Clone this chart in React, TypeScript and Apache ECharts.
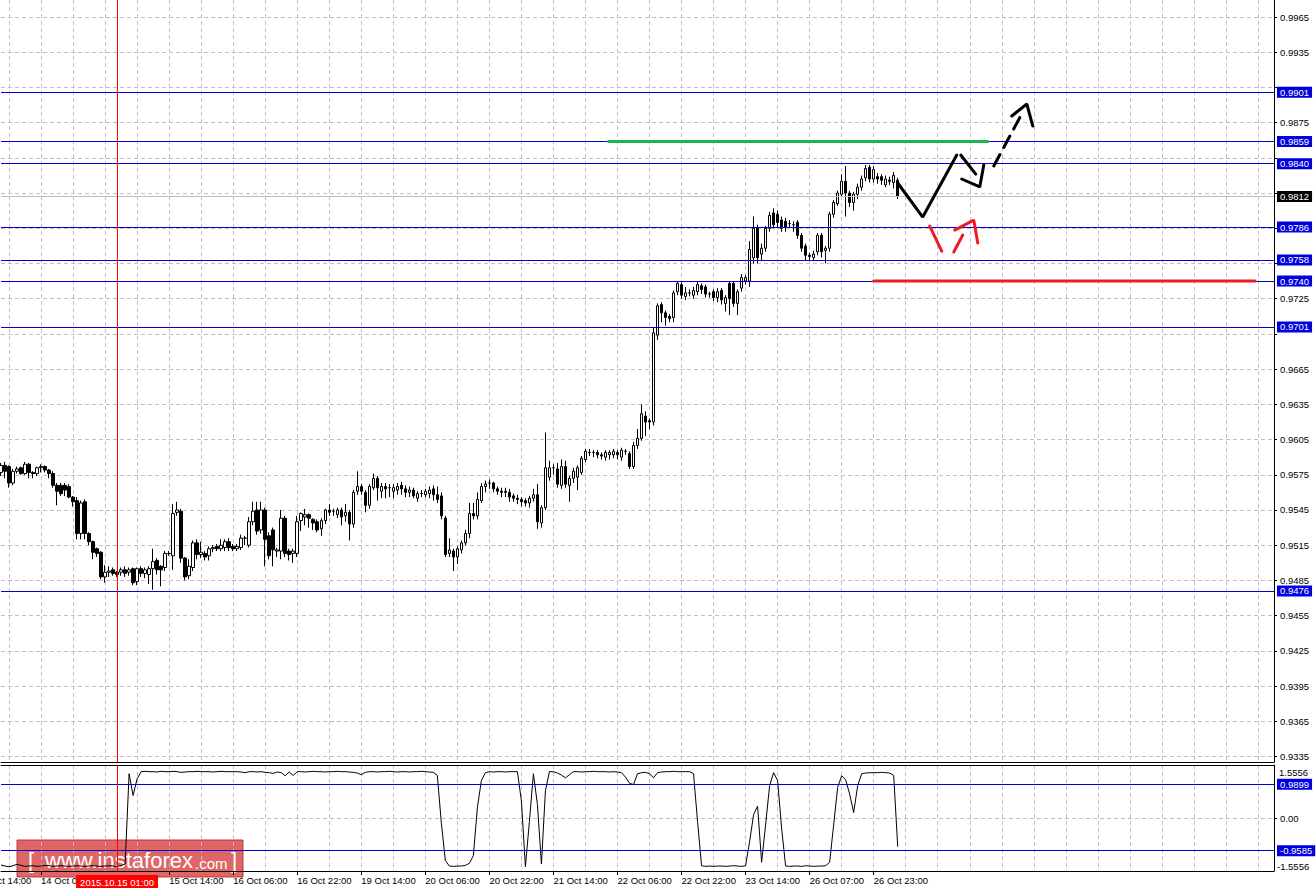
import React, { useEffect, useRef } from 'react';
import * as echarts from 'echarts';

const FONT = '"Liberation Sans", Arial, sans-serif';
const BLUE = '#0000dc';
const GRID_GRAY = '#c0c0c0';

const SLOT_COUNT = 319;
const FIRST_LABEL_BAR = 10;
const LABEL_STEP = 16;
const GRID_STEP = 8;
const GRID_PHASE = 2;

const timeLabels = [
  '14 Oct 06:00', '', '15 Oct 14:00', '16 Oct 06:00', '16 Oct 22:00', '19 Oct 14:00',
  '20 Oct 06:00', '20 Oct 22:00', '21 Oct 14:00', '22 Oct 06:00', '22 Oct 22:00',
  '23 Oct 14:00', '26 Oct 07:00', '26 Oct 23:00',
];
const offscreenLabel = '13 Oct 14:00';
const crosshairBar = '29';
const crosshairLabel = '2015.10.15 01:00';

const priceMin = 0.93303;
const priceMax = 0.99795;
const priceTicks = [
  0.9335, 0.9365, 0.9395, 0.9425, 0.9455, 0.9485, 0.9515, 0.9545, 0.9575, 0.9605, 0.9635,
  0.9665, 0.9695, 0.9725, 0.9755, 0.9785, 0.9815, 0.9845, 0.9875, 0.9905, 0.9935, 0.9965,
];
const priceLabels = [
  0.9335, 0.9365, 0.9395, 0.9425, 0.9455, 0.9485, 0.9515, 0.9545, 0.9575, 0.9605, 0.9635,
  0.9665, 0.9725, 0.9875, 0.9935, 0.9965,
];
const levelLines = [0.9901, 0.9859, 0.984, 0.9786, 0.9758, 0.974, 0.9701, 0.9476];
const currentPrice = 0.9812;
const indLevels = [0.9899, -0.9585];
const indRange = 1.5556;

// [open, close, low, high] in pips (x 0.0001)
const ohlc = [
  [9577,9583,9574,9585],[9583,9578,9572,9586],[9582,9568,9564,9583],[9568,9578,9566,9580],
  [9578,9580,9576,9582],[9581,9576,9575,9582],[9576,9584,9575,9586],[9584,9577,9572,9585],
  [9577,9576,9572,9578],[9576,9581,9574,9582],[9581,9582,9577,9584],[9582,9579,9577,9583],
  [9579,9576,9572,9580],[9576,9566,9564,9578],[9566,9561,9549,9568],[9566,9559,9557,9568],
  [9566,9562,9557,9568],[9565,9556,9555,9567],[9556,9552,9548,9557],[9553,9525,9520,9556],
  [9525,9551,9520,9553],[9552,9525,9520,9554],[9525,9518,9515,9526],[9518,9509,9503,9519],
  [9512,9508,9505,9513],[9509,9488,9486,9510],[9488,9492,9483,9498],[9492,9493,9488,9497],
  [9494,9491,9489,9496],[9492,9490,9488,9493],[9492,9494,9489,9496],[9494,9491,9488,9497],
  [9492,9494,9489,9496],[9495,9483,9481,9496],[9484,9495,9481,9496],[9495,9491,9488,9497],
  [9491,9494,9487,9496],[9490,9495,9482,9497],[9495,9501,9477,9512],[9502,9494,9490,9504],
  [9497,9494,9480,9498],[9496,9508,9493,9510],[9508,9508,9506,9510],[9506,9542,9494,9550],
  [9543,9545,9540,9552],[9544,9504,9500,9546],[9504,9488,9485,9505],[9489,9497,9486,9503],
  [9496,9517,9493,9519],[9517,9507,9503,9520],[9507,9509,9504,9518],[9508,9505,9502,9510],
  [9506,9512,9502,9514],[9512,9513,9509,9515],[9514,9512,9510,9516],[9512,9515,9510,9520],
  [9513,9518,9510,9520],[9518,9513,9510,9521],[9514,9512,9510,9516],[9512,9514,9510,9516],
  [9513,9521,9511,9524],[9521,9521,9515,9523],[9515,9535,9513,9539],[9535,9544,9532,9552],
  [9545,9527,9524,9552],[9528,9545,9525,9552],[9545,9520,9497,9547],[9523,9506,9503,9526],
  [9528,9511,9497,9530],[9510,9511,9505,9513],[9510,9538,9503,9545],[9538,9508,9505,9540],
  [9510,9507,9502,9512],[9508,9510,9500,9512],[9508,9535,9505,9540],[9536,9542,9527,9543],
  [9539,9541,9532,9546],[9541,9538,9530,9542],[9537,9534,9528,9538],[9535,9528,9526,9537],
  [9529,9536,9523,9538],[9536,9545,9533,9546],[9545,9543,9540,9550],[9544,9544,9540,9546],
  [9541,9545,9538,9547],[9545,9539,9532,9547],[9540,9543,9535,9550],[9543,9533,9519,9545],
  [9533,9560,9530,9562],[9561,9565,9558,9578],[9565,9561,9558,9567],[9560,9549,9543,9562],
  [9549,9565,9546,9567],[9564,9572,9562,9576],[9572,9564,9553,9574],[9561,9565,9555,9568],
  [9565,9563,9555,9568],[9564,9564,9556,9567],[9561,9564,9555,9567],[9562,9565,9558,9568],
  [9566,9563,9558,9569],[9563,9560,9556,9566],[9560,9562,9556,9565],[9562,9557,9555,9564],
  [9555,9559,9552,9561],[9559,9559,9556,9562],[9558,9561,9556,9563],[9559,9562,9555,9565],
  [9563,9558,9553,9566],[9558,9554,9551,9565],[9557,9540,9537,9560],[9538,9507,9505,9540],
  [9508,9511,9505,9521],[9510,9505,9493,9512],[9505,9512,9499,9514],[9511,9517,9508,9519],
  [9517,9525,9515,9528],[9525,9542,9521,9551],[9542,9540,9537,9551],[9540,9554,9537,9560],
  [9553,9565,9551,9568],[9565,9567,9560,9570],[9568,9568,9563,9571],[9568,9563,9560,9569],
  [9563,9561,9558,9565],[9561,9560,9556,9564],[9561,9560,9556,9564],[9560,9556,9552,9563],
  [9557,9555,9552,9559],[9555,9554,9550,9558],[9554,9552,9548,9556],[9553,9551,9548,9555],
  [9551,9555,9547,9557],[9555,9558,9552,9563],[9558,9535,9529,9567],[9534,9547,9530,9549],
  [9547,9581,9545,9611],[9573,9581,9570,9587],[9581,9581,9575,9584],[9580,9567,9564,9585],
  [9566,9582,9563,9588],[9582,9567,9564,9587],[9566,9572,9552,9574],[9572,9578,9568,9581],
  [9573,9581,9562,9583],[9577,9589,9575,9591],[9588,9595,9586,9597],[9594,9594,9591,9597],
  [9594,9594,9590,9596],[9594,9592,9589,9596],[9592,9591,9588,9594],[9590,9594,9587,9596],
  [9592,9594,9588,9596],[9592,9595,9589,9597],[9594,9592,9588,9596],[9590,9596,9587,9598],
  [9595,9595,9592,9597],[9593,9582,9580,9595],[9582,9600,9580,9603],[9600,9606,9597,9614],
  [9606,9627,9604,9635],[9625,9620,9608,9629],[9621,9620,9614,9623],[9620,9696,9617,9700],
  [9694,9719,9690,9721],[9720,9713,9705,9722],[9713,9709,9702,9715],[9710,9708,9705,9712],
  [9709,9730,9705,9732],[9731,9738,9728,9740],[9737,9728,9725,9739],[9727,9730,9724,9735],
  [9730,9730,9727,9733],[9728,9732,9725,9735],[9731,9737,9728,9740],[9736,9733,9729,9738],
  [9735,9729,9726,9737],[9729,9729,9726,9731],[9731,9726,9723,9733],[9726,9731,9722,9734],
  [9732,9724,9720,9734],[9721,9726,9714,9728],[9738,9725,9711,9740],[9738,9721,9718,9740],
  [9721,9731,9711,9733],[9734,9743,9731,9746],[9740,9743,9737,9745],[9740,9767,9735,9774],
  [9760,9785,9755,9795],[9785,9760,9755,9788],[9763,9768,9757,9772],[9768,9785,9765,9787],
  [9785,9796,9782,9799],[9798,9788,9785,9802],[9797,9790,9785,9800],[9792,9785,9782,9795],
  [9791,9786,9782,9794],[9789,9789,9785,9792],[9788,9788,9782,9791],[9790,9779,9776,9792],
  [9779,9768,9765,9781],[9770,9762,9758,9772],[9762,9761,9758,9764],[9760,9763,9757,9766],
  [9765,9779,9762,9781],[9779,9765,9760,9781],[9766,9768,9755,9770],[9768,9797,9765,9799],
  [9797,9807,9794,9809],[9806,9815,9804,9817],[9814,9825,9812,9831],[9825,9815,9795,9838],
  [9815,9807,9803,9817],[9807,9814,9800,9816],[9814,9820,9810,9823],[9820,9827,9817,9830],
  [9828,9836,9825,9839],[9837,9827,9824,9839],[9827,9835,9824,9838],[9829,9827,9823,9832],
  [9829,9826,9822,9831],[9822,9827,9820,9830],[9826,9825,9822,9829],[9824,9830,9819,9833],
  [9826,9812,9810,9828],
];

const indicator = [
  -1.38,-1.41,-1.43,-1.40,-1.36,-1.39,-1.42,-1.41,-1.40,-1.42,
  -1.41,-1.39,-1.40,-1.42,-1.41,-1.40,-1.41,-1.42,-1.41,-1.40,
  -1.41,-1.42,-1.41,-1.40,-1.41,-1.42,-1.41,-1.40,-1.41,-1.42,
  -1.40,-1.35,1.30,0.66,1.15,1.36,1.37,1.36,1.36,1.35,
  1.37,1.36,1.36,1.37,1.36,1.34,1.35,1.36,1.36,1.37,
  1.36,1.36,1.36,1.35,1.36,1.37,1.36,1.36,1.36,1.36,
  1.35,1.33,1.36,1.36,1.35,1.36,1.34,1.33,1.31,1.35,
  1.33,1.24,1.35,1.25,1.36,1.36,1.35,1.36,1.37,1.36,
  1.36,1.35,1.36,1.36,1.37,1.36,1.36,1.35,1.34,1.32,
  1.27,1.34,1.36,1.36,1.35,1.36,1.36,1.37,1.36,1.35,
  1.36,1.36,1.35,1.36,1.36,1.37,1.36,1.35,1.34,1.25,
  -0.15,-1.25,-1.41,-1.42,-1.41,-1.41,-1.39,-1.33,-1.10,0.30,
  1.10,1.33,1.36,1.35,1.36,1.36,1.35,1.36,1.36,1.36,
  0.50,-1.43,-0.10,1.30,0.40,-1.35,0.80,1.36,1.36,1.32,
  1.26,1.18,1.27,1.36,1.36,1.35,1.36,1.36,1.37,1.36,
  1.36,1.36,1.35,1.36,1.35,1.33,1.20,1.02,0.98,1.30,
  1.33,1.34,1.30,1.18,1.33,1.35,1.36,1.36,1.37,1.36,
  1.36,1.36,1.36,1.30,-0.10,-1.40,-1.42,-1.41,-1.42,-1.41,
  -1.41,-1.42,-1.41,-1.40,-1.41,-1.42,-1.40,-0.70,0.10,0.35,
  -1.30,-0.20,0.95,1.33,1.10,-0.30,-1.41,-1.42,-1.41,-1.41,
  -1.42,-1.40,-1.41,-1.42,-1.41,-1.41,-1.40,-1.30,-0.20,0.90,
  1.24,1.12,0.70,0.16,0.95,1.30,1.32,1.33,1.33,1.33,
  1.34,1.33,1.32,1.25,-0.84,
];

// hand-drawn annotations: [bar index, price]
const blackZigzag = [[224, 0.98236], [230.25, 0.97946], [238.75, 0.98474]];
const blackShaft1 = [[239.75, 0.98474], [243.5, 0.98312]];
const blackHead1 = [[240, 0.9827], [244.5, 0.98202], [245.5, 0.98389]];
const blackShaft2 = [[248, 0.98381], [255.25, 0.98841]];
const blackHead2 = [[252.5, 0.98807], [256.25, 0.98909], [257.75, 0.98721]];
const redShaft1 = [[232, 0.97869], [235, 0.97656]];
const redShaft2 = [[238, 0.97648], [240.25, 0.97793]];
const redHead = [[238.25, 0.97835], [243, 0.9792], [244, 0.97725]];
const greenLevel = [[151.75, 0.9859], [246.5, 0.9859]];
const redLevel = [[218, 0.974], [313.25, 0.974]];

const categories = Array.from({ length: SLOT_COUNT }, (_, i) => String(i));

const isLabelBar = (i: number) =>
  i >= FIRST_LABEL_BAR && (i - FIRST_LABEL_BAR) % LABEL_STEP === 0 &&
  !!timeLabels[(i - FIRST_LABEL_BAR) / LABEL_STEP];
const isGridBar = (i: number) => i % GRID_STEP === GRID_PHASE;

const dashed = { color: GRID_GRAY, width: 1, type: [4, 3] as any };
const blackLine = { show: true, onZero: false, lineStyle: { color: '#000', width: 1 } };

function levelMark(v: number, color: string, bg: string, digits: number) {
  return {
    yAxis: v,
    lineStyle: { color, width: 1, type: 'solid' },
    label: {
      show: true,
      position: 'end',
      distance: 3,
      formatter: v.toFixed(digits),
      backgroundColor: bg,
      color: '#fff',
      padding: [1, 3, 0, 3],
      fontSize: 9.5,
      fontFamily: FONT,
    },
  };
}

function annLine(data: number[][], color: string, width: number, type: any = 'solid') {
  return {
    type: 'line',
    xAxisIndex: 2,
    yAxisIndex: 0,
    data,
    symbol: 'none',
    silent: true,
    z: 10,
    lineStyle: { color, width, type, cap: 'round' },
  };
}

export default function App() {
  const ref = useRef<HTMLDivElement>(null);
  useEffect(() => {
    document.body.style.margin = '0';
    const chart = echarts.init(ref.current!, null, { renderer: 'svg' });
    const candleData = ohlc.map(([o, c, l, h]) => [o / 1e4, c / 1e4, l / 1e4, h / 1e4]);

    const option: any = {
      animation: false,
      backgroundColor: '#ffffff',
      grid: [
        { left: 1, top: 0, width: 1273, height: 762 },
        { left: 1, top: 765, width: 1273, height: 106 },
      ],
      xAxis: [
        {
          type: 'category', gridIndex: 0, data: categories, boundaryGap: false,
          axisLine: blackLine,
          axisTick: { show: false }, axisLabel: { show: false },
          splitLine: { show: true, interval: (i: number) => isGridBar(i), lineStyle: dashed },
        },
        {
          type: 'category', gridIndex: 1, data: categories, boundaryGap: false,
          axisLine: blackLine,
          axisTick: { show: true, interval: (i: number) => isLabelBar(i), length: 4, lineStyle: { color: '#000' } },
          axisLabel: {
            show: true, interval: (i: number) => isLabelBar(i), align: 'left', margin: 4,
            color: '#000', fontSize: 9.5, fontFamily: FONT,
            formatter: (v: string) => {
              const i = Number(v);
              return isLabelBar(i) ? timeLabels[(i - FIRST_LABEL_BAR) / LABEL_STEP] : '';
            },
          },
          splitLine: { show: true, interval: (i: number) => isGridBar(i), lineStyle: dashed },
        },
        {
          type: 'value', gridIndex: 0, min: 0, max: SLOT_COUNT - 1, show: false,
          axisLine: { show: false, onZero: false },
        },
        {
          type: 'category', gridIndex: 1, data: categories, boundaryGap: false, position: 'top',
          axisLine: blackLine,
          axisTick: { show: false }, axisLabel: { show: false }, splitLine: { show: false },
        },
      ],
      yAxis: [
        {
          type: 'value', gridIndex: 0, position: 'right', min: priceMin, max: priceMax,
          axisLine: blackLine,
          axisTick: { show: true, length: 3, customValues: priceTicks, lineStyle: { color: '#000' } },
          axisLabel: {
            show: true, customValues: priceLabels, margin: 6, color: '#000',
            fontSize: 9.5, fontFamily: FONT, formatter: (v: number) => v.toFixed(4),
          },
          splitLine: { show: true, lineStyle: dashed },
        },
        {
          type: 'value', gridIndex: 1, position: 'right', min: -indRange, max: indRange,
          axisLine: blackLine,
          axisTick: { show: true, length: 3, customValues: [0], lineStyle: { color: '#000' } },
          axisLabel: {
            show: true, customValues: [0], margin: 6, color: '#000',
            fontSize: 9.5, fontFamily: FONT, formatter: (v: number) => v.toFixed(2),
          },
          splitLine: { show: true, lineStyle: dashed },
        },
      ],
      series: [
        {
          type: 'candlestick', xAxisIndex: 0, yAxisIndex: 0, data: candleData, barWidth: 3,
          itemStyle: { color: '#ffffff', color0: '#000000', borderColor: '#000000', borderColor0: '#000000', borderWidth: 1 },
          markLine: {
            silent: true, symbol: 'none', animation: false, precision: 4,
            data: [
              ...levelLines.map((v) => levelMark(v, BLUE, BLUE, 4)),
              levelMark(currentPrice, '#c0c0c0', '#000000', 4),
              { xAxis: crosshairBar, lineStyle: { color: '#ff0000', width: 1, type: 'solid' }, label: { show: false } },
            ],
          },
        },
        {
          type: 'line', xAxisIndex: 1, yAxisIndex: 1, data: indicator, symbol: 'none', silent: true,
          lineStyle: { color: '#000', width: 1 },
          markLine: {
            silent: true, symbol: 'none', animation: false,
            data: [
              ...indLevels.map((v) => levelMark(v, BLUE, BLUE, 4)),
              {
                xAxis: crosshairBar,
                lineStyle: { color: '#ff0000', width: 1, type: 'solid' },
                label: {
                  show: true, position: 'start', distance: 4, formatter: crosshairLabel,
                  backgroundColor: '#ff0000', color: '#fff', padding: [2, 4, 1, 4],
                  fontSize: 9.5, fontFamily: FONT,
                },
              },
            ],
          },
        },
        annLine(greenLevel, '#22b14c', 3),
        annLine(redLevel, '#ed1c24', 3),
        annLine(blackZigzag, '#000', 3),
        annLine(blackShaft1, '#000', 3),
        annLine(blackHead1, '#000', 3),
        annLine(blackShaft2, '#000', 3, [13, 8]),
        annLine(blackHead2, '#000', 3),
        annLine(redShaft1, '#ed1c24', 3),
        annLine(redShaft2, '#ed1c24', 3),
        annLine(redHead, '#ed1c24', 3),
      ],
      graphic: [
        {
          type: 'text', left: -23, top: 875, z: 5, silent: true,
          style: { text: offscreenLabel, fill: '#000', fontSize: 9.5, fontFamily: FONT },
        },
        {
          type: 'text', x: 1279, y: 772, z: 5, silent: true,
          style: { text: indRange.toFixed(4), fill: '#000', fontSize: 9.5, fontFamily: FONT, verticalAlign: 'middle' },
        },
        {
          type: 'text', x: 1277, y: 866, z: 5, silent: true,
          style: { text: (-indRange).toFixed(4), fill: '#000', fontSize: 9.5, fontFamily: FONT, verticalAlign: 'middle' },
        },
        {
          type: 'group', x: 17, y: 840, z: 200, silent: true,
          children: [
            {
              type: 'rect', shape: { x: 0, y: 0, width: 226, height: 37 },
              style: { fill: 'rgba(219,74,74,0.85)', stroke: 'rgba(180,50,50,0.9)', lineWidth: 1 },
            },
            { type: 'text', x: 11, y: 20, style: { text: '[', fill: '#fff', fontSize: 22, fontFamily: FONT, verticalAlign: 'middle' } },
            { type: 'text', x: 28, y: 20, style: { text: 'www.instaforex', fill: '#fff', fontSize: 22, fontFamily: FONT, verticalAlign: 'middle' } },
            { type: 'text', x: 178, y: 23, style: { text: '.com', fill: '#fff', fontSize: 15, fontFamily: FONT, verticalAlign: 'middle' } },
            { type: 'text', x: 214, y: 20, style: { text: ']', fill: '#fff', fontSize: 22, fontFamily: FONT, verticalAlign: 'middle' } },
          ],
        },
      ],
    };
    chart.setOption(option);
    return () => chart.dispose();
  }, []);
  return <div ref={ref} style={{ width: 1316, height: 891 }} />;
}
